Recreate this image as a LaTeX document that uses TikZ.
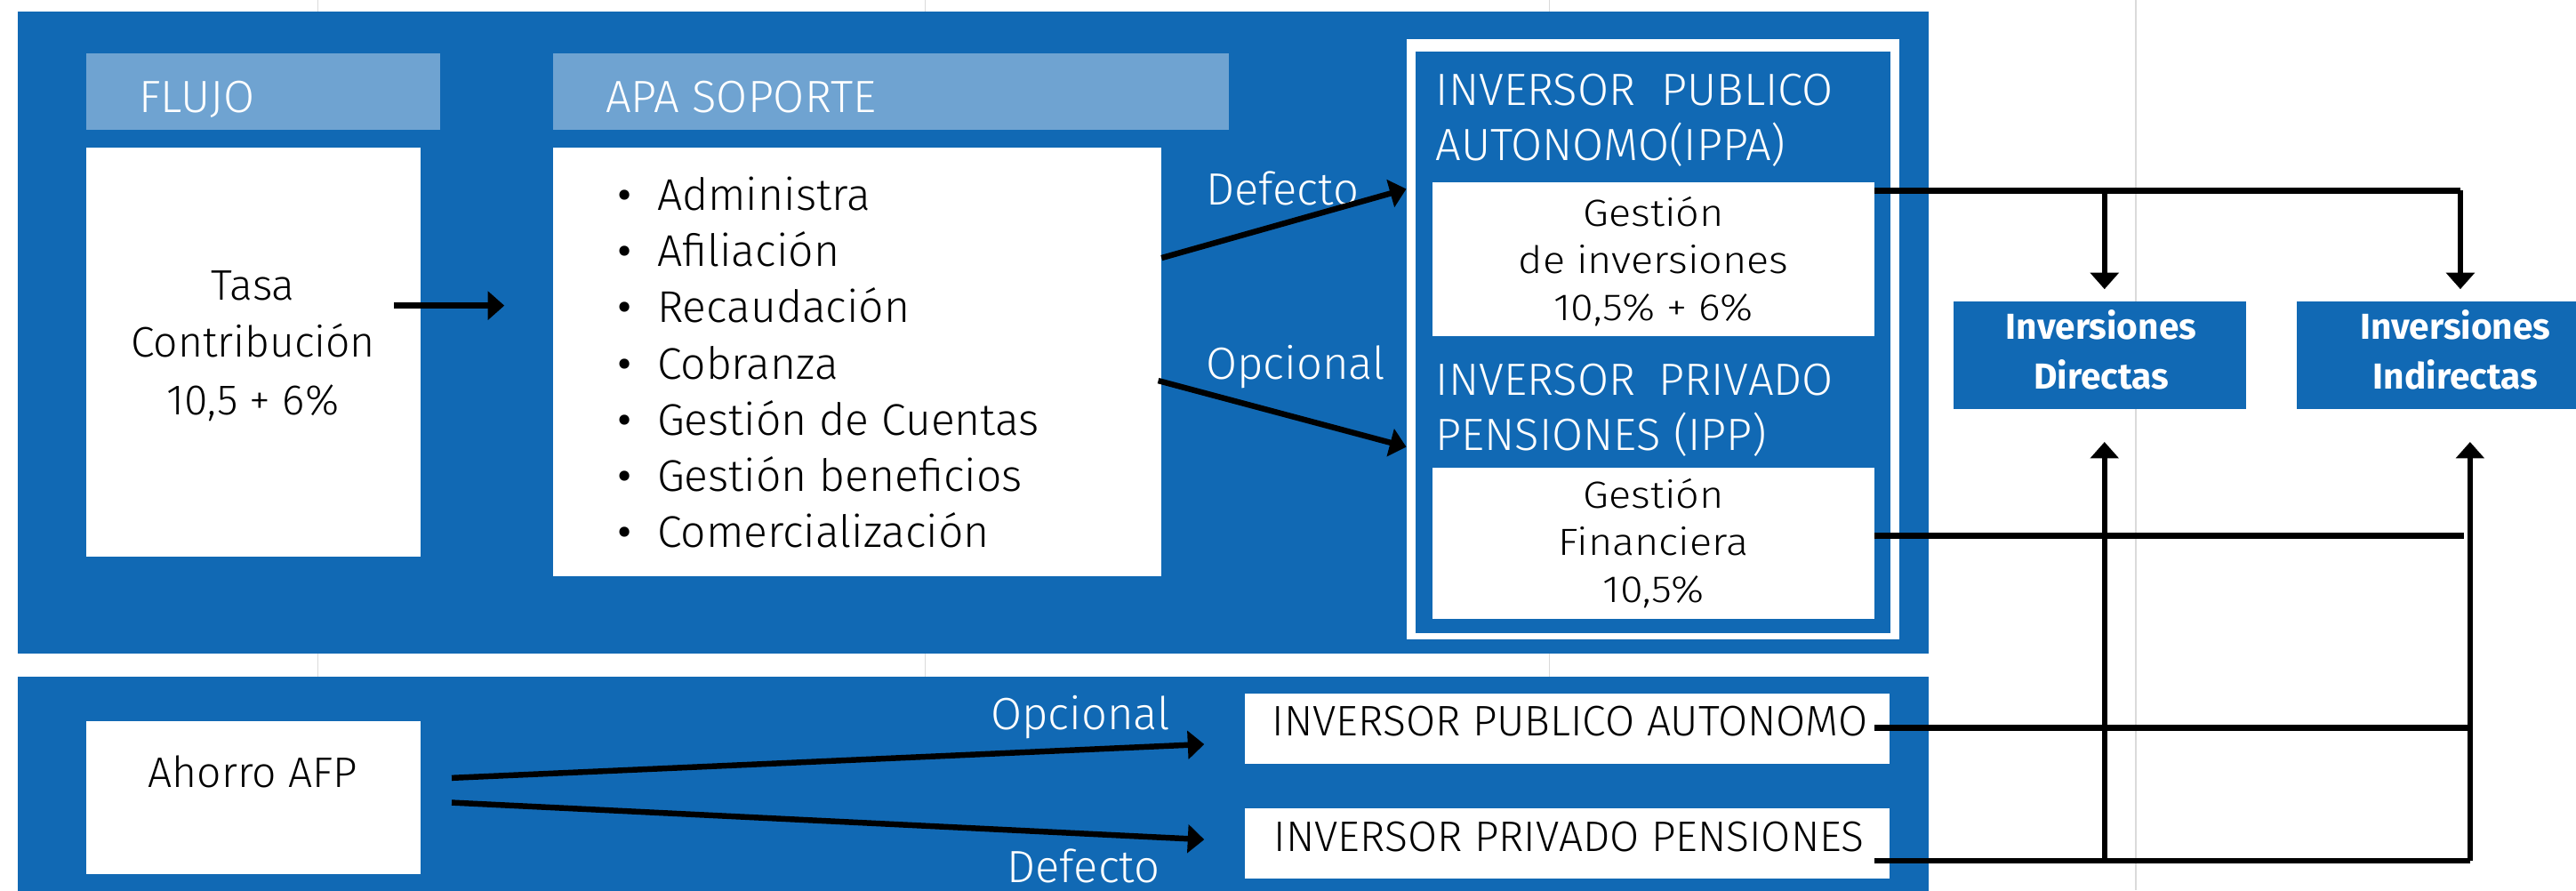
\documentclass[tikz,border=0pt]{standalone}
\usepackage{fontspec}
\IfFontExistsTF{Fira Sans Light}{\setmainfont{Fira Sans Light}}{\setmainfont{Fira Sans}}
\newfontfamily\firareg{Fira Sans}
\usetikzlibrary{arrows.meta}
\definecolor{panelblue}{RGB}{17,105,180}
\definecolor{headblue}{RGB}{111,163,209}
\definecolor{gridgray}{RGB}{218,218,218}
\begin{document}
\begin{tikzpicture}[x=1pt,y=-1pt,
  box/.style={draw=none,inner sep=0pt,outer sep=0pt,anchor=north west},
  txt/.style={inner sep=0pt,outer sep=0pt,font=\fontsize{26}{31}\selectfont},
  txti/.style={inner sep=0pt,outer sep=0pt,font=\fontsize{27}{31}\selectfont},
  txtw/.style={inner sep=0pt,outer sep=0pt,font=\fontsize{27.5}{31}\selectfont,text=white},
  txts/.style={inner sep=0pt,outer sep=0pt,font=\fontsize{23}{26}\selectfont},
  txtb/.style={inner sep=0pt,outer sep=0pt,font=\firareg\fontsize{22}{27}\selectfont\bfseries,text=white},
  conn/.style={line width=3.5pt,draw=black},
  arr/.style={conn,-{Triangle[width=17pt,length=10pt]}},
]
\useasboundingbox (0,0) rectangle (1568,542);
% grid lines of the sheet
\foreach \gx in {193.6,563,943,1300}
  \draw[gridgray,line width=0.7pt] (\gx,0) -- (\gx,542);
% panels
\node[box,fill=panelblue,minimum width=1163pt,minimum height=391pt] (toppanel) at (10.7,7) {};
\node[box,fill=panelblue,minimum width=1163pt,minimum height=140pt] (botpanel) at (10.7,412) {};
% headers
\node[box,fill=headblue,minimum width=215.5pt,minimum height=46.5pt] (flujoh) at (52.5,32.5) {};
\node[box,fill=headblue,minimum width=411.5pt,minimum height=46.5pt] (apah) at (336.6,32.5) {};
\node[txtw,anchor=base west] (flujot) at (84.5,68.5) {FLUJO};
\node[txtw,anchor=base west] (apat) at (368.6,68.5) {APA SOPORTE};
% Tasa box
\node[box,fill=white,minimum width=203.5pt,minimum height=249pt] (tasa) at (52.5,90) {};
\node[txt,anchor=base] (tasa1) at (154,182.5) {Tasa};
\node[txt,anchor=base] (tasa2) at (154,217.5) {Contribución};
\node[txt,anchor=base] (tasa3) at (154,252.5) {10,5 + 6\%};
% APA box
\node[box,fill=white,minimum width=370.5pt,minimum height=260.5pt] (apa) at (336.6,90) {};
\foreach \t [count=\i from 0, evaluate=\i as \yy using 128+34.2*\i] in
  {Administra,Afiliación,Recaudación,Cobranza,Gestión de Cuentas,Gestión beneficios,Comercialización}{
  \node[txti,anchor=base west] (bul\i) at (376,\yy) {\firareg •};
  \node[txti,anchor=base west] (item\i) at (400,\yy) {\t};
}
% investor frame
\node[box,fill=white,minimum width=300pt,minimum height=365pt] (frame) at (856,24) {};
\node[box,fill=panelblue,minimum width=289pt,minimum height=354pt] (framein) at (861.5,31.5) {};
\node[txtw,anchor=base west] (ippa1) at (874,64) {\hbox to 242pt{INVERSOR\hfill PUBLICO}};
\node[txtw,anchor=base west] (ippa2) at (874,97.5) {AUTONOMO(IPPA)};
\node[box,fill=white,minimum width=269pt,minimum height=93.5pt] (gest1) at (872,111) {};
\node[txts,anchor=base] (g1a) at (1006.5,138) {\scalebox{1.1}[1]{Gestión}};
\node[txts,anchor=base] (g1b) at (1006.5,166.5) {\scalebox{1.1}[1]{de inversiones}};
\node[txts,anchor=base] (g1c) at (1006.5,195) {\scalebox{1.1}[1]{10,5\% + 6\%}};
\node[txtw,anchor=base west] (ipp1) at (874,240.8) {\hbox to 242pt{INVERSOR\hfill PRIVADO}};
\node[txtw,anchor=base west] (ipp2) at (874,274) {PENSIONES (IPP)};
\node[box,fill=white,minimum width=269pt,minimum height=92pt] (gest2) at (872,284.6) {};
\node[txts,anchor=base] (g2a) at (1006.5,309.5) {\scalebox{1.1}[1]{Gestión}};
\node[txts,anchor=base] (g2b) at (1006.5,338) {\scalebox{1.1}[1]{Financiera}};
\node[txts,anchor=base] (g2c) at (1006.5,366.5) {\scalebox{1.1}[1]{10,5\%}};
% result boxes
\node[box,fill=panelblue,minimum width=178pt,minimum height=65.5pt] (dir) at (1189,183.5) {};
\node[txtb,anchor=base] (dir1) at (1279,206.5) {Inversiones};
\node[txtb,anchor=base] (dir2) at (1279,236.6) {Directas};
\node[box,fill=panelblue,minimum width=200pt,minimum height=65.5pt] (indir) at (1398,183.5) {};
\node[txtb,anchor=base] (ind1) at (1494.5,206.5) {Inversiones};
\node[txtb,anchor=base] (ind2) at (1494.5,236.6) {Indirectas};
% bottom panel content
\node[box,fill=white,minimum width=203.5pt,minimum height=93pt] (ahorro) at (52.5,439) {};
\node[txt,anchor=base] (ahorrot) at (154,479) {Ahorro AFP};
\node[box,fill=white,minimum width=392.5pt,minimum height=43pt] (ipa) at (757.5,422) {};
\node[txt,anchor=base] (ipat) at (955.5,448) {INVERSOR PUBLICO AUTONOMO};
\node[box,fill=white,minimum width=392.5pt,minimum height=43pt] (ippb) at (757.5,492) {};
\node[txt,anchor=base] (ippbt) at (955,518) {INVERSOR PRIVADO PENSIONES};
% labels
\node[txtw,anchor=base west] (ldef1) at (734,124.5) {Defecto};
\node[txtw,anchor=base west] (lopc1) at (734,231) {Opcional};
\node[txtw,anchor=base west] (lopc2) at (603,444) {Opcional};
\node[txtw,anchor=base west] (ldef2) at (613,537) {Defecto};
% connector end points
\coordinate (tA) at (240,186);
\coordinate (tB) at (307,186);
\coordinate (dA) at (707,157);
\coordinate (dB) at (856,115);
\coordinate (oA) at (705,231.7);
\coordinate (oB) at (856,272);
\coordinate (g1s) at (1141,116);
\coordinate (j1) at (1281,116);
\coordinate (j2) at (1497.6,116);
\coordinate (dirTop) at (1281,176);
\coordinate (indTop) at (1497.6,176);
\coordinate (g2s) at (1141,326);
\coordinate (g2e) at (1500,326);
\coordinate (ipas) at (1141,443);
\coordinate (ipae) at (1503.5,443);
\coordinate (ipps) at (1141,524);
\coordinate (k1) at (1281,524);
\coordinate (k2) at (1503.5,524);
\coordinate (dirBot) at (1281,269);
\coordinate (indBot) at (1503.5,269);
\coordinate (aA) at (275,473.5);
\coordinate (aB) at (733,453);
\coordinate (bA) at (275,488.5);
\coordinate (bB) at (733,511);
% connectors
\draw[arr] (tA) -- (tB);
\draw[arr] (dA) -- (dB);
\draw[arr] (oA) -- (oB);
\draw[conn] (g1s) -- (j2);
\draw[arr] (j1) -- (dirTop);
\draw[arr] (j2) -- (indTop);
\draw[conn] (g2s) -- (g2e);
\draw[conn] (ipas) -- (ipae);
\draw[conn] (ipps) -- (k2);
\draw[arr] (k1) -- (dirBot);
\draw[arr] (k2) -- (indBot);
\draw[arr] (aA) -- (aB);
\draw[arr] (bA) -- (bB);
\end{tikzpicture}
\end{document}
